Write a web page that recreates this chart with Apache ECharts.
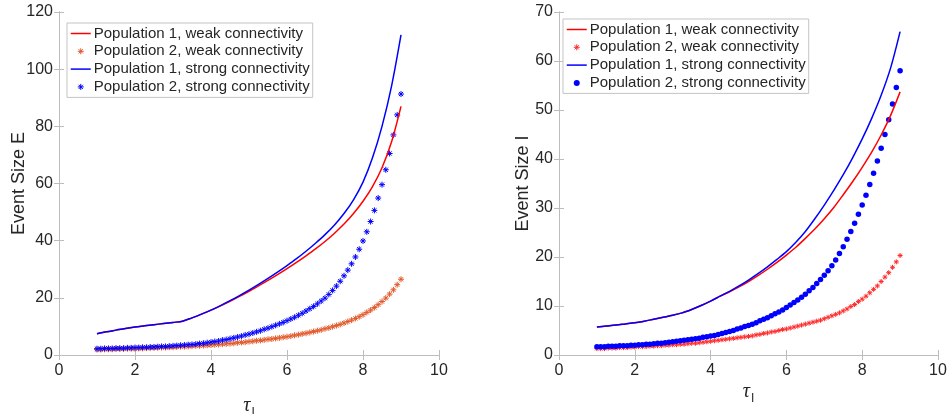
<!DOCTYPE html>
<html>
<head>
<meta charset="utf-8">
<script src="https://cdn.jsdelivr.net/npm/echarts@6/dist/echarts.min.js"></script>
<style>
  html, body { margin: 0; padding: 0; background: #fff; }
  #chart { width: 948px; height: 414px; }
</style>
</head>
<body>
<div id="chart"></div>
<script>
// tau for the marker series (step 0.1)
const tauDots = [
  1.0, 1.1, 1.2, 1.3, 1.4, 1.5, 1.6, 1.7, 1.8, 1.9,
  2.0, 2.1, 2.2, 2.3, 2.4, 2.5, 2.6, 2.7, 2.8, 2.9,
  3.0, 3.1, 3.2, 3.3, 3.4, 3.5, 3.6, 3.7, 3.8, 3.9,
  4.0, 4.1, 4.2, 4.3, 4.4, 4.5, 4.6, 4.7, 4.8, 4.9,
  5.0, 5.1, 5.2, 5.3, 5.4, 5.5, 5.6, 5.7, 5.8, 5.9,
  6.0, 6.1, 6.2, 6.3, 6.4, 6.5, 6.6, 6.7, 6.8, 6.9,
  7.0, 7.1, 7.2, 7.3, 7.4, 7.5, 7.6, 7.7, 7.8, 7.9,
  8.0, 8.1, 8.2, 8.3, 8.4, 8.5, 8.6, 8.7, 8.8, 8.9,
  9.0
]
// tau for the solid curves (step 0.25)
const tauLine = [
  1.0, 1.25, 1.5, 1.75, 2.0, 2.25, 2.5, 2.75, 3.0, 3.25, 3.5, 3.75,
  4.0, 4.25, 4.5, 4.75, 5.0, 5.25, 5.5, 5.75, 6.0, 6.25, 6.5, 6.75,
  7.0, 7.25, 7.5, 7.75, 8.0, 8.25, 8.5, 8.75, 9.0
]

// left panel: Event Size E
const ePop1Weak = [
  7.4, 8.1, 8.7, 9.3, 9.8, 10.2, 10.6, 11.0, 11.4, 11.8, 13.0, 14.3,
  15.7, 17.2, 18.8, 20.5, 22.3, 24.2, 26.1, 28.1, 30.2, 32.4, 34.7, 37.1,
  39.7, 42.6, 45.8, 49.5, 53.8, 58.9, 65.5, 74.5, 87.0
]
const ePop1Strong = [
  7.4, 8.1, 8.7, 9.3, 9.8, 10.2, 10.6, 11.0, 11.4, 11.8, 13.0, 14.3,
  15.7, 17.3, 19.0, 20.8, 22.7, 24.7, 26.8, 29.0, 31.3, 33.7, 36.3, 39.1,
  42.1, 45.5, 49.5, 54.3, 60.5, 69.0, 80.0, 94.0, 112.0
]
const ePop2Weak = [
  1.9, 1.9, 2.0, 2.0, 2.0, 2.1, 2.1, 2.1, 2.2, 2.2,
  2.2, 2.3, 2.3, 2.4, 2.4, 2.5, 2.5, 2.6, 2.6, 2.7,
  2.7, 2.8, 2.9, 2.9, 3.0, 3.1, 3.2, 3.2, 3.3, 3.4,
  3.5, 3.6, 3.7, 3.8, 3.9, 4.0, 4.1, 4.3, 4.4, 4.5,
  4.7, 4.8, 5.0, 5.1, 5.3, 5.5, 5.6, 5.8, 6.0, 6.2,
  6.4, 6.6, 6.9, 7.1, 7.4, 7.6, 7.9, 8.2, 8.5, 8.8,
  9.2, 9.5, 9.9, 10.3, 10.7, 11.2, 11.7, 12.2, 12.8, 13.4,
  14.1, 14.9, 15.7, 16.6, 17.6, 18.7, 19.9, 21.3, 22.8, 24.6,
  26.5
]
const ePop2Strong = [
  2.2, 2.2, 2.3, 2.3, 2.3, 2.4, 2.4, 2.4, 2.5, 2.5,
  2.6, 2.6, 2.7, 2.7, 2.8, 2.8, 2.9, 3.0, 3.0, 3.1,
  3.2, 3.3, 3.4, 3.5, 3.6, 3.7, 3.8, 4.0, 4.1, 4.3,
  4.5, 4.7, 4.9, 5.2, 5.4, 5.7, 6.0, 6.3, 6.6, 7.0,
  7.3, 7.7, 8.1, 8.5, 9.0, 9.4, 9.9, 10.4, 10.9, 11.4,
  12.0, 12.6, 13.2, 13.9, 14.6, 15.4, 16.2, 17.0, 17.9, 18.9,
  19.9, 21.2, 22.6, 24.1, 25.8, 27.7, 29.7, 31.9, 34.3, 37.0,
  39.9, 43.1, 46.7, 50.6, 54.9, 59.6, 64.8, 70.5, 77.0, 84.0,
  91.3
]

// right panel: Event Size I
const iPop1Weak = [
  5.7, 5.9, 6.1, 6.35, 6.6, 6.9, 7.3, 7.7, 8.1, 8.6, 9.3, 10.1,
  11.0, 12.0, 12.9, 13.9, 15.0, 16.2, 17.5, 18.9, 20.4, 22.0, 23.8, 25.7,
  27.8, 30.1, 32.7, 35.4, 38.3, 41.4, 44.9, 48.9, 53.7
]
const iPop1Strong = [
  5.7, 5.9, 6.1, 6.35, 6.6, 6.9, 7.3, 7.7, 8.1, 8.6, 9.3, 10.1,
  11.0, 12.0, 13.0, 14.1, 15.3, 16.6, 18.0, 19.5, 21.1, 23.0, 25.2, 27.8,
  30.6, 33.6, 36.8, 40.3, 44.1, 48.3, 53.0, 58.6, 66.0
]
const iPop2Weak = [
  1.3, 1.3, 1.3, 1.4, 1.4, 1.4, 1.5, 1.5, 1.5, 1.6,
  1.6, 1.7, 1.7, 1.7, 1.8, 1.8, 1.9, 1.9, 2.0, 2.0,
  2.1, 2.1, 2.2, 2.2, 2.3, 2.4, 2.4, 2.5, 2.6, 2.7,
  2.8, 2.9, 3.0, 3.1, 3.2, 3.3, 3.4, 3.5, 3.6, 3.7,
  3.8, 3.9, 4.1, 4.2, 4.4, 4.5, 4.7, 4.8, 5.0, 5.2,
  5.3, 5.5, 5.7, 5.9, 6.1, 6.3, 6.5, 6.7, 6.9, 7.1,
  7.4, 7.7, 8.0, 8.3, 8.6, 9.0, 9.4, 9.9, 10.3, 10.9,
  11.4, 12.0, 12.7, 13.4, 14.1, 15.0, 15.9, 16.8, 17.9, 19.0,
  20.3
]
const iPop2Strong = [
  1.7, 1.7, 1.7, 1.8, 1.8, 1.8, 1.9, 1.9, 1.9, 2.0,
  2.0, 2.1, 2.1, 2.2, 2.2, 2.3, 2.4, 2.4, 2.5, 2.6,
  2.7, 2.8, 2.9, 3.0, 3.1, 3.2, 3.3, 3.4, 3.6, 3.7,
  3.9, 4.0, 4.2, 4.4, 4.6, 4.8, 5.0, 5.3, 5.5, 5.8,
  6.0, 6.3, 6.6, 7.0, 7.3, 7.6, 8.0, 8.4, 8.8, 9.2,
  9.7, 10.2, 10.7, 11.2, 11.8, 12.4, 13.1, 13.8, 14.6, 15.4,
  16.3, 17.2, 18.2, 19.4, 20.7, 22.1, 23.6, 25.2, 26.9, 28.7,
  30.6, 32.6, 34.8, 37.1, 39.6, 42.2, 45.0, 48.0, 51.2, 54.6,
  58.0
]

const xTicks = { min: 0, max: 10, interval: 2 }
const eTicks = { min: 0, max: 120, interval: 20 }
const iTicks = { min: 0, max: 70, interval: 10 }

const names = [
  'Population 1, weak connectivity',
  'Population 2, weak connectivity',
  'Population 1, strong connectivity',
  'Population 2, strong connectivity'
]

const SANS = '"Liberation Sans", Arial, Helvetica, sans-serif'
const axisColor = '#bdbdbd'
const textColor = '#262626'
const RED = '#ff0000'
const BLUE = '#0000ff'
const ORANGE = '#e2592a'
const PINK = '#ff2a2a'
// matlab style '*' marker
const STAR = 'path://M5 0L5 10M0 5L10 5M1.5 1.5L8.5 8.5M1.5 8.5L8.5 1.5'
const HIDDEN = { color: 'rgba(0,0,0,0)', borderWidth: 0, opacity: 0 }

const pairs = (xs, ys) => xs.map((x, i) => [x, ys[i]])

const xAxisPair = (grid, nameGap) => [
  {
    type: 'value', gridIndex: grid, position: 'bottom', ...xTicks,
    axisLine: { show: true, lineStyle: { color: axisColor } },
    axisTick: { show: true, inside: true, length: 5, lineStyle: { color: axisColor } },
    axisLabel: { color: textColor, fontSize: 16, fontFamily: SANS, margin: 8 },
    splitLine: { show: false },
    name: '{t|τ}{s|I}',
    nameLocation: 'middle',
    nameGap: nameGap,
    nameMoveOverlap: false,
    nameTextStyle: {
      rich: {
        t: { fontFamily: '"Liberation Serif", "DejaVu Serif", serif', fontStyle: 'italic', fontSize: 20, color: textColor },
        s: { fontFamily: SANS, fontSize: 12, color: textColor, padding: [14, 0, 0, 1] }
      }
    }
  },
  {
    type: 'value', gridIndex: grid, position: 'top', ...xTicks,
    axisLine: { show: true, lineStyle: { color: axisColor } },
    axisTick: { show: true, inside: true, length: 5, lineStyle: { color: axisColor } },
    axisLabel: { show: false },
    splitLine: { show: false }
  }
]

const yAxisPair = (grid, ticks, name, nameGap) => [
  {
    type: 'value', gridIndex: grid, position: 'left', ...ticks,
    axisLine: { show: true, lineStyle: { color: axisColor } },
    axisTick: { show: true, inside: true, length: 5, lineStyle: { color: axisColor } },
    axisLabel: { color: textColor, fontSize: 16, fontFamily: SANS, margin: 6 },
    splitLine: { show: false },
    name: name,
    nameLocation: 'middle',
    nameGap: nameGap,
    nameMoveOverlap: false,
    nameTextStyle: { color: textColor, fontSize: 18, fontFamily: SANS }
  },
  {
    type: 'value', gridIndex: grid, position: 'right', ...ticks,
    axisLine: { show: true, lineStyle: { color: axisColor } },
    axisTick: { show: true, inside: true, length: 5, lineStyle: { color: axisColor } },
    axisLabel: { show: false },
    splitLine: { show: false }
  }
]

const lineSeries = (name, axis, xs, ys, color) => ({
  name, type: 'line', xAxisIndex: axis, yAxisIndex: axis,
  data: pairs(xs, ys), symbol: 'none', smooth: 0.3,
  lineStyle: { color, width: 1.5 }, itemStyle: { color }
})

const dotSeries = (name, axis, xs, ys, color, symbol, size) => ({
  name, type: 'scatter', xAxisIndex: axis, yAxisIndex: axis,
  data: pairs(xs, ys), symbol, symbolSize: size,
  itemStyle: symbol === STAR
    ? { color, borderColor: color, borderWidth: 1, opacity: 1 }
    : { color, opacity: 1 }
})

const legendBox = (left, top, weakColor, strongIcon) => ({
  orient: 'vertical', left, top,
  padding: [3, 3, 3, 3],
  itemWidth: 20, itemHeight: 6, itemGap: 2.8,
  backgroundColor: '#fff', borderColor: '#c4c4c4', borderWidth: 1,
  textStyle: { color: textColor, fontSize: 15, fontFamily: SANS, lineHeight: 15, padding: [0, 0, 0, -2] },
  selectedMode: false,
  data: [
    { name: names[0], itemStyle: HIDDEN, lineStyle: { color: RED, width: 1.5 } },
    { name: names[1], icon: STAR, itemStyle: { color: weakColor, borderColor: weakColor, borderWidth: 1 } },
    { name: names[2], itemStyle: HIDDEN, lineStyle: { color: BLUE, width: 1.5 } },
    strongIcon === 'circle'
      ? { name: names[3], icon: 'circle', itemStyle: { color: BLUE, borderWidth: 0 } }
      : { name: names[3], icon: STAR, itemStyle: { color: BLUE, borderColor: BLUE, borderWidth: 1 } }
  ]
})

const chart = echarts.init(document.getElementById('chart'))

const option = {
  animation: false,
  backgroundColor: '#fff',
  grid: [
    { left: 59, right: 509, top: 12, bottom: 59, containLabel: false, outerBoundsMode: 'none' },
    { left: 559, right: 10, top: 12, bottom: 59, containLabel: false, outerBoundsMode: 'none' }
  ],
  xAxis: [...xAxisPair(0, 38), ...xAxisPair(1, 24)],
  yAxis: [...yAxisPair(0, eTicks, 'Event Size E', 31), ...yAxisPair(1, iTicks, 'Event Size I', 27)],
  legend: [
    legendBox(67, 23, ORANGE, 'star'),
    legendBox(563, 19, PINK, 'circle')
  ],
  series: [
    lineSeries(names[0], 0, tauLine, ePop1Weak, RED),
    dotSeries(names[1], 0, tauDots, ePop2Weak, ORANGE, STAR, 6),
    lineSeries(names[2], 0, tauLine, ePop1Strong, BLUE),
    dotSeries(names[3], 0, tauDots, ePop2Strong, BLUE, STAR, 6),

    lineSeries(names[0], 2, tauLine, iPop1Weak, RED),
    dotSeries(names[1], 2, tauDots, iPop2Weak, PINK, STAR, 5),
    lineSeries(names[2], 2, tauLine, iPop1Strong, BLUE),
    dotSeries(names[3], 2, tauDots, iPop2Strong, BLUE, 'circle', 5.5)
  ]
}

chart.setOption(option)
</script>
</body>
</html>
